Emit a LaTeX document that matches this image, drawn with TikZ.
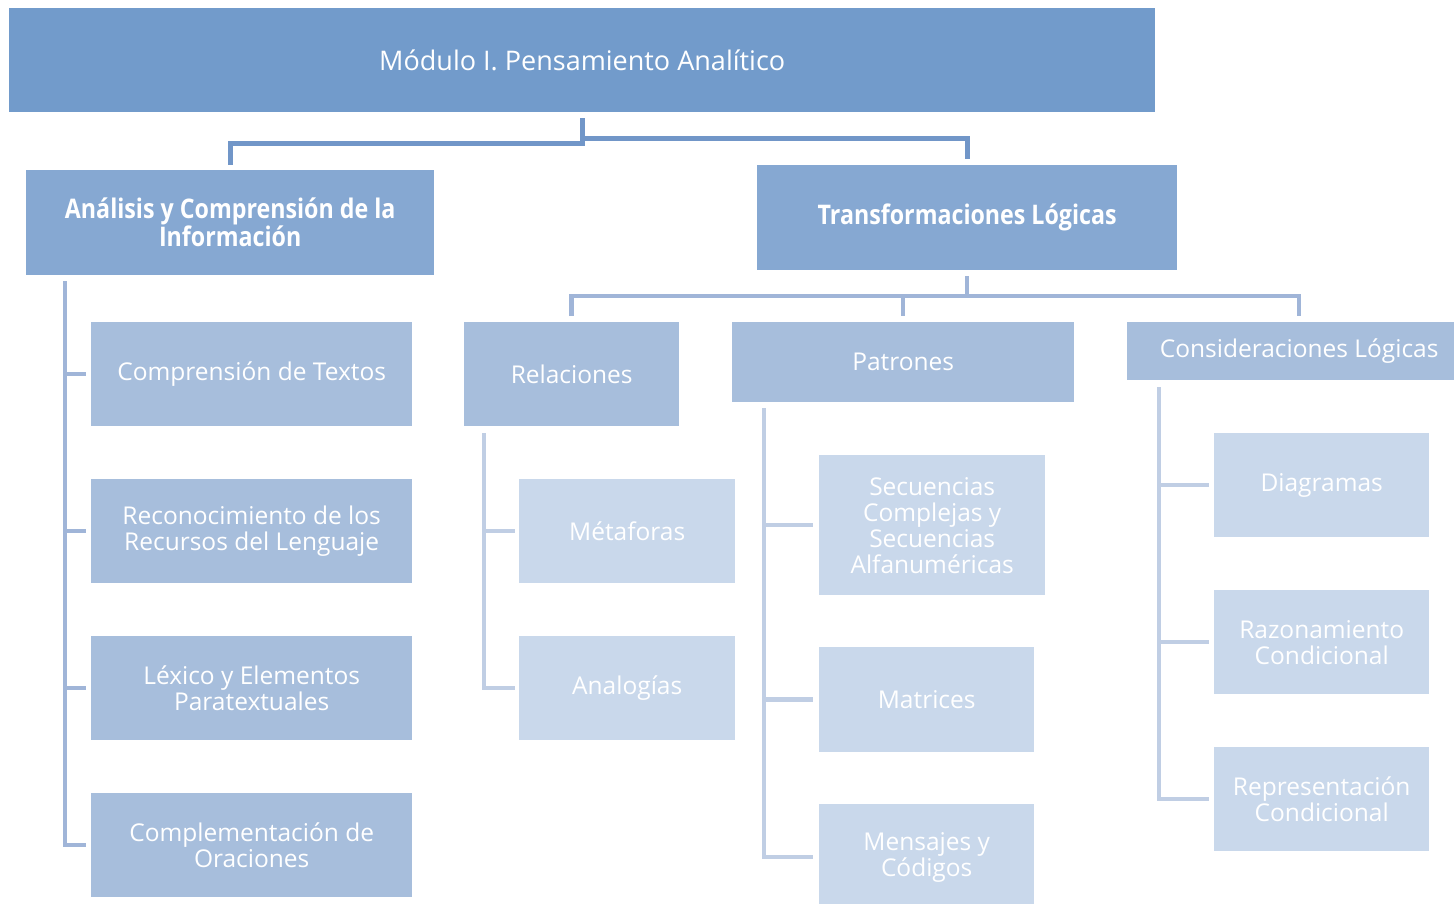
\documentclass[tikz,border=0pt]{standalone}
\usepackage{fontspec}
\setmainfont{Open Sans}
\newfontfamily\headfont[FakeStretch=0.86]{Open Sans}
\definecolor{cTitle}{HTML}{729BCB}
\definecolor{cLvTwo}{HTML}{86A8D2}
\definecolor{cLvThree}{HTML}{A7BEDC}
\definecolor{cLvFour}{HTML}{C9D8EB}
\definecolor{cLineA}{HTML}{7196C8}
\definecolor{cLineB}{HTML}{A0B5D8}
\definecolor{cLineC}{HTML}{C0CEE4}
\begin{document}
\begin{tikzpicture}[x=1pt,y=-1pt,
  bx/.style={anchor=north west, inner sep=0pt, align=center, text=white, draw=none,
             font=\fontsize{24.5}{26}\selectfont},
  tbox/.style={bx, fill=cTitle, font=\fontsize{27}{30}\selectfont},
  hbox/.style={bx, fill=cLvTwo, font=\headfont\bfseries\fontsize{27}{26}\selectfont},
  mbox/.style={bx, fill=cLvThree},
  lbox/.style={bx, fill=cLvFour},
  lnA/.style={draw=cLineA, line width=5pt},
  lnB/.style={draw=cLineB, line width=4.5pt},
  lnC/.style={draw=cLineC, line width=4.5pt}]
\useasboundingbox (0,0) rectangle (1454,904);

% level 1
\node[tbox, minimum width=1146, minimum height=104] (title) at (9,8) {Módulo I. Pensamiento Analítico};

% level 2
\node[hbox, minimum width=408, minimum height=105] (anal) at (26,170) {Análisis y Comprensión de la\\Información};
\node[hbox, minimum width=420, minimum height=105] (trans) at (757,165) {Transformaciones Lógicas};

% left column
\node[mbox, minimum width=321, minimum height=104] (ct) at (91,322) {Comprensión de Textos};
\node[mbox, minimum width=321, minimum height=104] (rr) at (91,479) {Reconocimiento de los\\Recursos del Lenguaje};
\node[mbox, minimum width=321, minimum height=104] (le) at (91,636) {Léxico y Elementos\\Paratextuales};
\node[mbox, minimum width=321, minimum height=104] (co) at (91,793) {Complementación de\\Oraciones};

% level 3 right
\node[mbox, minimum width=215, minimum height=104] (rel) at (464,322) {Relaciones};
\node[mbox, minimum width=342, minimum height=80] (pat) at (732,322) {Patrones};
\node[mbox, minimum width=344, minimum height=58] (cons) at (1127,322) {Consideraciones Lógicas};

% level 4
\node[lbox, minimum width=216, minimum height=104] (met) at (519,479) {Métaforas};
\node[lbox, minimum width=216, minimum height=104] (ana) at (519,636) {Analogías};
\node[lbox, minimum width=226, minimum height=140] (sec) at (819,455) {Secuencias\\Complejas y\\Secuencias\\Alfanuméricas};
\node[lbox, minimum width=215, minimum height=105] (mat) at (819,647) {Matrices};
\node[lbox, minimum width=215, minimum height=106] (men) at (819,804) {Mensajes y\\Códigos};
\node[lbox, minimum width=215, minimum height=104] (dia) at (1214,433) {Diagramas};
\node[lbox, minimum width=215, minimum height=104] (raz) at (1214,590) {Razonamiento\\Condicional};
\node[lbox, minimum width=215, minimum height=104] (rep) at (1214,747) {Representación\\Condicional};

% connectors level 1 -> 2
\draw[lnA] ([yshift=-6pt]title.south) |- ([yshift=26pt]anal.north) -- ([yshift=5pt]anal.north);
\draw[lnA] ([yshift=-26pt]title.south) -| ([yshift=6pt]trans.north);

% connectors trans -> level 3
\draw[lnB] ([yshift=-6pt]trans.south) -- ([yshift=-26pt]trans.south);
\draw[lnB] ([yshift=6pt]rel.north) |- ([yshift=26pt]cons.north) -- ([yshift=6pt]cons.north);
\draw[lnB] ([yshift=26pt]pat.north) -- ([yshift=6pt]pat.north);

% left bracket
\coordinate (spA) at ([xshift=39pt,yshift=-6pt]anal.south west);
\draw[lnB] (spA) |- ([xshift=-5pt]co.west);
\draw[lnB] (spA |- ct.west) -- ([xshift=-5pt]ct.west);
\draw[lnB] (spA |- rr.west) -- ([xshift=-5pt]rr.west);
\draw[lnB] (spA |- le.west) -- ([xshift=-5pt]le.west);

% relaciones bracket
\coordinate (spR) at ([xshift=20pt,yshift=-7pt]rel.south west);
\draw[lnC] (spR) |- ([xshift=-4pt]ana.west);
\draw[lnC] (spR |- met.west) -- ([xshift=-4pt]met.west);

% patrones bracket
\coordinate (spP) at ([xshift=32pt,yshift=-6pt]pat.south west);
\draw[lnC] (spP) |- ([xshift=-6pt]men.west);
\draw[lnC] (spP |- sec.west) -- ([xshift=-6pt]sec.west);
\draw[lnC] (spP |- mat.west) -- ([xshift=-6pt]mat.west);

% consideraciones bracket
\coordinate (spC) at ([xshift=32pt,yshift=-7pt]cons.south west);
\draw[lnC] (spC) |- ([xshift=-5pt]rep.west);
\draw[lnC] (spC |- dia.west) -- ([xshift=-5pt]dia.west);
\draw[lnC] (spC |- raz.west) -- ([xshift=-5pt]raz.west);
\end{tikzpicture}
\end{document}
